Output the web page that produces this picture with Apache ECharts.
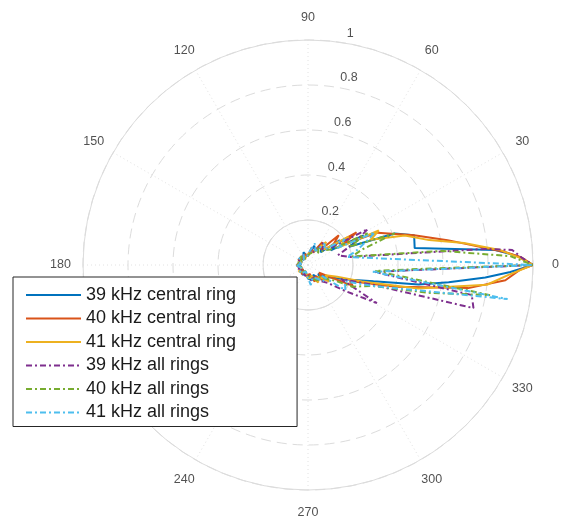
<!DOCTYPE html>
<html>
<head>
<meta charset="utf-8">
<script src="https://cdn.jsdelivr.net/npm/echarts@6/dist/echarts.min.js"></script>
<style>
html,body{margin:0;padding:0;background:#ffffff;}
#chart{width:565px;height:517px;}
</style>
</head>
<body>
<div id="chart"></div>
<script>
// ---- data (angle in degrees, normalized amplitude) ----
var seriesNames = ['39 kHz central ring','40 kHz central ring','41 kHz central ring','39 kHz all rings','40 kHz all rings','41 kHz all rings'];

var theta39c = [-180,-165,-150,-135,-120,-105,-90,-75,-62,-50,-40,-32,-25,-19,-14,-10,-7,-4,-2,0,2.5,4.6,9,15.7,20,24,28,33,38,45,55,63,72,84,95,110,125,140,155,168,180];
var r39c     = [0.05,0.03,0.04,0.03,0.05,0.04,0.06,0.07,0.05,0.08,0.06,0.1,0.14,0.2,0.3,0.5,0.63,0.79,0.9,1,0.93,0.835,0.48,0.49,0.41,0.2,0.28,0.12,0.18,0.08,0.1,0.07,0.09,0.05,0.04,0.06,0.03,0.05,0.03,0.04,0.05];

var theta40c = [-180,-160,-140,-125,-110,-95,-80,-68,-55,-45,-35,-25,-21,-14,-8.2,-4.4,-1.4,0,2,3.8,10.1,15.7,25,30,34,38,44,50,58,68,78,90,105,120,135,150,165,180];
var r40c     = [0.05,0.04,0.03,0.05,0.03,0.05,0.04,0.08,0.06,0.1,0.06,0.22,0.2,0.4,0.72,0.88,0.94,1,0.95,0.877,0.63,0.49,0.34,0.18,0.26,0.14,0.19,0.09,0.12,0.06,0.08,0.04,0.05,0.03,0.04,0.05,0.03,0.05];

var theta41c = [-180,-160,-145,-128,-112,-98,-85,-72,-60,-48,-38,-30,-22,-17,-12,-6.3,-2.9,0,2,4.5,8,11.6,17,22,26,30,35,44,52,62,75,88,100,115,130,148,165,180];
var r41c     = [0.05,0.03,0.05,0.04,0.03,0.05,0.06,0.05,0.09,0.07,0.12,0.09,0.14,0.25,0.5,0.8,0.89,1,0.94,0.855,0.7,0.55,0.45,0.3,0.35,0.15,0.22,0.1,0.13,0.07,0.06,0.05,0.04,0.03,0.05,0.04,0.03,0.05];

var theta39a = [-180,-165,-150,-135,-120,-105,-90,-78,-65,-52,-42,-35,-29,-23,-17,-14.6,-10.4,-6,-3,0,2,4.2,5.2,10.8,18,25,31,37,45,55,65,75,85,100,115,130,145,160,172,180];
var r39a     = [0.05,0.04,0.05,0.03,0.04,0.05,0.04,0.07,0.06,0.09,0.12,0.2,0.35,0.16,0.3,0.76,0.74,0.3,0.45,1,0.95,0.91,0.79,0.19,0.14,0.22,0.31,0.13,0.09,0.12,0.06,0.08,0.05,0.04,0.05,0.03,0.04,0.05,0.03,0.05];

var theta40a = [-180,-162,-146,-130,-115,-100,-86,-72,-60,-48,-38,-30,-26,-18,-13,-9.4,-5,-2,0,2.5,6,11,16,20,24,28,33,41,50,60,70,82,95,110,125,140,155,168,180];
var r40a     = [0.05,0.03,0.04,0.05,0.03,0.04,0.05,0.06,0.08,0.07,0.1,0.14,0.22,0.3,0.55,0.82,0.3,0.5,1,0.9,0.6,0.2,0.25,0.41,0.2,0.3,0.13,0.1,0.07,0.09,0.06,0.05,0.04,0.03,0.05,0.04,0.03,0.05,0.05];

var theta41a = [-180,-168,-152,-138,-122,-108,-94,-82,-70,-58,-46,-38,-34,-24,-18,-13,-9.7,-6,0,11.6,16,22,26,30,35,43,52,62,72,84,96,112,128,144,160,172,180];
var r41a     = [0.05,0.04,0.03,0.05,0.04,0.03,0.05,0.09,0.06,0.07,0.1,0.08,0.2,0.18,0.3,0.5,0.9,0.29,1,0.177,0.22,0.28,0.33,0.15,0.2,0.1,0.12,0.07,0.1,0.06,0.04,0.05,0.03,0.05,0.04,0.03,0.05];

var angleTickLabels = ['0','30','60','90','120','150','180','210','240','270','300','330'];
var angleTickValues = [0,30,60,90,120,150,180,210,240,270,300,330];
var radiusTickValues = [0.2,0.4,0.6,0.8,1];
var radiusTickLabels = ['0.2','0.4','0.6','0.8','1'];

// ---- style ----
var colors = ['#0072BD','#D95319','#EDB120','#7E2F8E','#77AC30','#4DBEEE'];
var dashDot = [6,3,2,3];
var FONT = 'Liberation Sans, Arial, Helvetica, sans-serif';

function build(th, r) {
  var out = [];
  for (var i = 0; i < th.length; i++) {
    var a = th[i] < 0 ? th[i] + 360 : th[i];
    out.push([r[i], a]);
  }
  return out;
}

var thetas = [theta39c, theta40c, theta41c, theta39a, theta40a, theta41a];
var rs = [r39c, r40c, r41c, r39a, r40a, r41a];

var series = [];
for (var k = 0; k < 6; k++) {
  series.push({
    name: seriesNames[k],
    type: 'line',
    coordinateSystem: 'polar',
    polarIndex: 0,
    data: build(thetas[k], rs[k]),
    symbol: 'none',
    showSymbol: false,
    clip: false,
    z: 3,
    lineStyle: { color: colors[k], width: 2, type: k < 3 ? 'solid' : dashDot },
    itemStyle: { color: colors[k] },
    animation: false
  });
}

// angle tick labels placed at 1.1 x outer radius
series.push({
  type: 'scatter',
  coordinateSystem: 'polar',
  polarIndex: 0,
  symbolSize: 0,
  clip: false,
  silent: true,
  animation: false,
  data: angleTickValues.map(function (a, i) { return { value: [1.1, a], name: angleTickLabels[i] }; }),
  label: {
    show: true,
    position: [0, 0],
    align: 'center',
    verticalAlign: 'middle',
    formatter: function (p) { return p.name; },
    color: '#262626',
    fontSize: 12.5,
    fontFamily: FONT
  }
});

// radius tick labels at 82 degrees
series.push({
  type: 'scatter',
  coordinateSystem: 'polar',
  polarIndex: 0,
  symbolSize: 0,
  clip: false,
  silent: true,
  animation: false,
  data: radiusTickValues.map(function (v, i) { return { value: [v + 0.01, 82], name: radiusTickLabels[i] }; }),
  label: {
    show: true,
    position: [7, 0],
    align: 'left',
    verticalAlign: 'bottom',
    formatter: function (p) { return p.name; },
    color: '#262626',
    fontSize: 12.5,
    fontFamily: FONT
  }
});

var chart = echarts.init(document.getElementById('chart'), null, { renderer: 'canvas' });
chart.setOption({
  backgroundColor: '#ffffff',
  animation: false,
  polar: [
    { center: [308, 265], radius: 225 },
    { center: [308, 265], radius: 45 }
  ],
  angleAxis: [
    {
      polarIndex: 0, type: 'value', min: 0, max: 360, interval: 30,
      startAngle: 0, clockwise: false,
      axisLine: { show: true, lineStyle: { color: '#dcdcdc', width: 1 } },
      axisTick: { show: false },
      axisLabel: { show: false },
      splitLine: { show: true, lineStyle: { color: '#e2e2e2', width: 1, type: [1, 3] } }
    },
    {
      polarIndex: 1, type: 'value', min: 0, max: 360, interval: 30,
      startAngle: 0, clockwise: false,
      axisLine: { show: true, lineStyle: { color: '#dcdcdc', width: 1 } },
      axisTick: { show: false },
      axisLabel: { show: false },
      splitLine: { show: false }
    }
  ],
  radiusAxis: [
    {
      polarIndex: 0, type: 'value', min: 0, max: 1, interval: 0.2,
      axisLine: { show: false }, axisTick: { show: false }, axisLabel: { show: false },
      splitLine: { show: true, lineStyle: { color: '#dcdcdc', width: 1, type: [10, 6] } }
    },
    {
      polarIndex: 1, type: 'value', min: 0, max: 1,
      axisLine: { show: false }, axisTick: { show: false }, axisLabel: { show: false },
      splitLine: { show: false }
    }
  ],
  legend: {
    data: seriesNames,
    orient: 'vertical',
    left: 13,
    top: 277,
    padding: [9, 61, 5, 12],
    itemWidth: 55,
    itemHeight: 14,
    itemGap: 5.5,
    backgroundColor: '#ffffff',
    borderColor: '#262626',
    borderWidth: 1,
    borderRadius: 0,
    selectedMode: false,
    itemStyle: { opacity: 0 },
    textStyle: { fontSize: 18, lineHeight: 18, color: '#1a1a1a', fontFamily: FONT },
    z: 10
  },
  series: series
});
</script>
</body>
</html>
